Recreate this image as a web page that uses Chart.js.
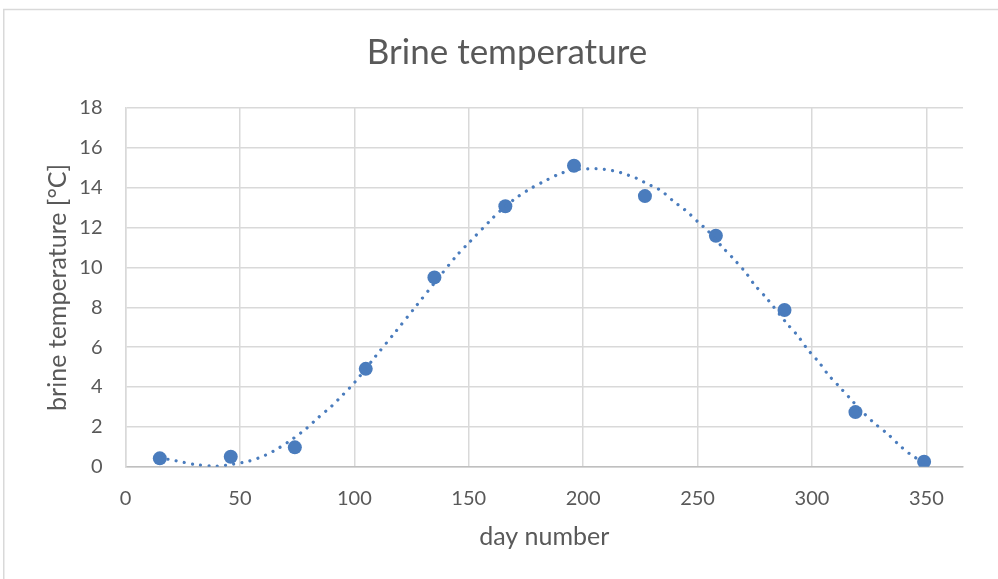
<!DOCTYPE html>
<html>
<head>
<meta charset="utf-8">
<script src="https://cdn.jsdelivr.net/npm/chart.js@4/dist/chart.umd.min.js"></script>
<style>
  html, body { margin: 0; padding: 0; background: #fff; }
  #wrap { position: relative; width: 998px; height: 579px; }
</style>
</head>
<body>
<div id="wrap"><canvas id="c" width="998" height="579"></canvas></div>
<script>
// Measured data points (day number, brine temperature °C)
const days  = [15, 46, 74, 105, 135, 166, 196, 227, 258, 288, 319, 349];
const temps = [0.42, 0.50, 0.97, 4.91, 9.50, 13.07, 15.10, 13.58, 11.59, 7.86, 2.74, 0.25];

// Trendline (dotted curve)
const trendDays  = [15, 22, 30, 40, 47, 54, 61, 67, 73, 79, 84, 90, 95, 100, 109, 118, 127, 136, 145, 150, 160, 165, 171, 177, 184, 190, 196, 201, 204, 208, 211, 215, 218, 222, 225, 228, 232, 235, 240, 243, 246, 251, 254, 261, 266, 271, 275, 280, 289, 294, 298, 303, 307, 312, 317, 322, 327, 333, 338, 343, 349];
const trendTemps = [0.45, 0.30, 0.12, 0.03, 0.13, 0.28, 0.57, 0.94, 1.39, 1.91, 2.44, 3.03, 3.61, 4.21, 5.50, 6.77, 8.06, 9.36, 10.63, 11.23, 12.42, 12.97, 13.51, 13.96, 14.38, 14.71, 14.90, 14.94, 14.96, 14.94, 14.89, 14.81, 14.69, 14.54, 14.38, 14.19, 13.99, 13.77, 13.27, 13.02, 12.74, 12.19, 11.90, 11.00, 10.40, 9.75, 9.11, 8.48, 7.19, 6.54, 5.90, 5.25, 4.63, 4.01, 3.38, 2.76, 2.21, 1.65, 1.10, 0.62, 0.20];

const chartTitle = 'Brine temperature';
const xTitle = 'day number';
const yTitle = 'brine temperature [°C]';

const blue = '#4a7cbd';
const textColor = '#595959';
const gridColor = '#d9d9d9';

const framePlugin = {
  id: 'frame',
  beforeDraw(chart) {
    const ctx = chart.ctx;
    ctx.save();
    ctx.fillStyle = '#ffffff';
    ctx.fillRect(0, 0, chart.width, chart.height);
    ctx.strokeStyle = gridColor;
    ctx.lineWidth = 1.5;
    ctx.beginPath();
    ctx.moveTo(3, 9.5); ctx.lineTo(chart.width, 9.5);
    ctx.moveTo(3.75, 9.5); ctx.lineTo(3.75, chart.height);
    ctx.stroke();
    ctx.restore();
  }
};

new Chart(document.getElementById('c'), {
  type: 'scatter',
  data: {
    datasets: [
      {
        label: 'trend',
        type: 'line',
        data: trendDays.map((d, i) => ({ x: d, y: trendTemps[i] })),
        borderColor: blue,
        borderWidth: 3.2,
        borderDash: [0.001, 8.3],
        borderCapStyle: 'round',
        pointRadius: 0,
        tension: 0.3,
        fill: false,
        order: 0
      },
      {
        label: 'brine',
        data: days.map((d, i) => ({ x: d, y: temps[i] })),
        backgroundColor: blue,
        borderColor: blue,
        borderWidth: 0,
        pointRadius: 7,
        pointHoverRadius: 7,
        order: 1
      }
    ]
  },
  options: {
    responsive: false,
    animation: false,
    devicePixelRatio: 1,
    layout: { padding: { left: 16, right: 0, top: 0, bottom: 0 } },
    plugins: {
      legend: { display: false },
      tooltip: { enabled: false },
      title: {
        display: true,
        text: chartTitle,
        color: textColor,
        font: { family: 'Lato', size: 35, weight: 'normal' },
        padding: { top: 32, bottom: 34 }
      }
    },
    scales: {
      x: {
        type: 'linear',
        min: 0,
        max: 366,
        ticks: {
          stepSize: 50,
          includeBounds: false,
          color: textColor,
          font: { family: 'Lato', size: 20 },
          padding: 20,
          maxRotation: 0
        },
        grid: { color: gridColor, lineWidth: 1.5, drawTicks: false },
        border: { color: '#bfbfbf', width: 1.5 },
        title: {
          display: true,
          text: xTitle,
          color: textColor,
          font: { family: 'Lato', size: 25 },
          padding: { top: 27, bottom: 27 }
        },
        afterFit(scale) { scale.height = 112.3; }
      },
      y: {
        min: 0,
        max: 18,
        ticks: {
          stepSize: 2,
          color: textColor,
          font: { family: 'Lato', size: 20 },
          padding: 23
        },
        grid: { color: gridColor, lineWidth: 1.5, drawTicks: false },
        border: { color: gridColor, width: 1.5 },
        title: {
          display: true,
          text: yTitle,
          color: textColor,
          font: { family: 'Lato', size: 25 },
          padding: { top: 27, bottom: 0 }
        },
        afterFit(scale) { scale.width = 109.5; }
      },
      yRight: {
        position: 'right',
        display: true,
        min: 0,
        max: 18,
        ticks: { display: false },
        grid: { display: false, drawTicks: false },
        border: { display: false },
        afterFit(scale) { scale.width = 35; }
      }
    }
  },
  plugins: [framePlugin]
});
</script>
</body>
</html>
